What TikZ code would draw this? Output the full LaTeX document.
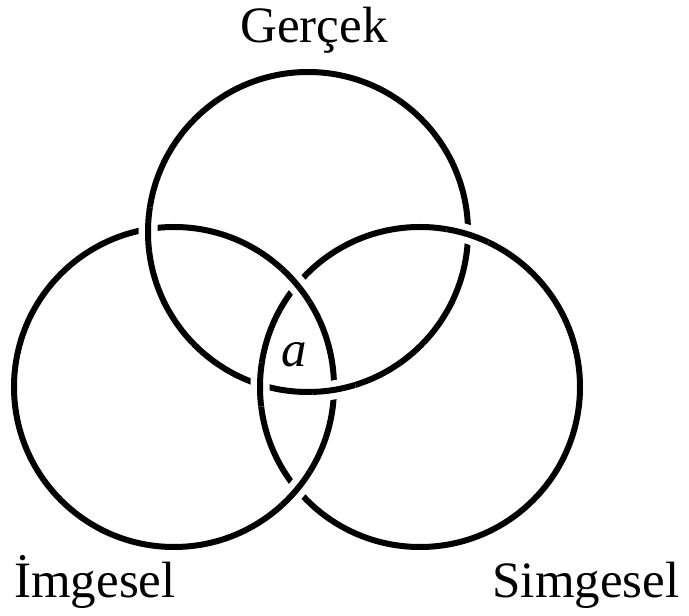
\documentclass[tikz,border=0pt]{standalone}
\usepackage{fontspec}
\setmainfont{Liberation Serif}
\usetikzlibrary{intersections}
\begin{document}
\begin{tikzpicture}[x=1pt,y=1pt,
  ring/.style={line width=6pt, black},
  gapline/.style={line width=19pt, white},
  lbl/.style={font=\fontsize{51}{60}\selectfont, inner sep=0pt, anchor=base}]
\useasboundingbox (0,0) rectangle (689,616);
\fill[white] (0,0) rectangle (689,616);
\coordinate (cT) at (308,384);
\coordinate (cL) at (174,229);
\coordinate (cR) at (420,229);
\path[name path=T] (cT) circle (160pt);
\path[name path=L] (cL) circle (160pt);
\path[name path=R] (cR) circle (160pt);
\draw[ring] (cT) circle (160pt);
\draw[ring] (cL) circle (160pt);
\draw[ring] (cR) circle (160pt);
\path[name intersections={of=T and L, name=tl}];
\path[name intersections={of=L and R, name=lr}];
\path[name intersections={of=R and T, name=rt}];
% T over L
\foreach \p in {tl-1,tl-2}{
  \begin{scope}
    \clip (\p) circle (22pt);
    \draw[gapline] (cT) circle (160pt);
    \draw[ring] (cT) circle (160pt);
  \end{scope}}
% L over R
\foreach \p in {lr-1,lr-2}{
  \begin{scope}
    \clip (\p) circle (22pt);
    \draw[gapline] (cL) circle (160pt);
    \draw[ring] (cL) circle (160pt);
  \end{scope}}
% R over T
\foreach \p in {rt-1,rt-2}{
  \begin{scope}
    \clip (\p) circle (22pt);
    \draw[gapline] (cR) circle (160pt);
    \draw[ring] (cR) circle (160pt);
  \end{scope}}
\node[lbl] (gercek) at (314,573) {Gerçek};
\node[lbl] (imgesel) at (95,18) {İmgesel};
\node[lbl] (simgesel) at (586,18) {Simgesel};
\node[lbl] (a) at (294,249) {\textit{a}};
\end{tikzpicture}
\end{document}
